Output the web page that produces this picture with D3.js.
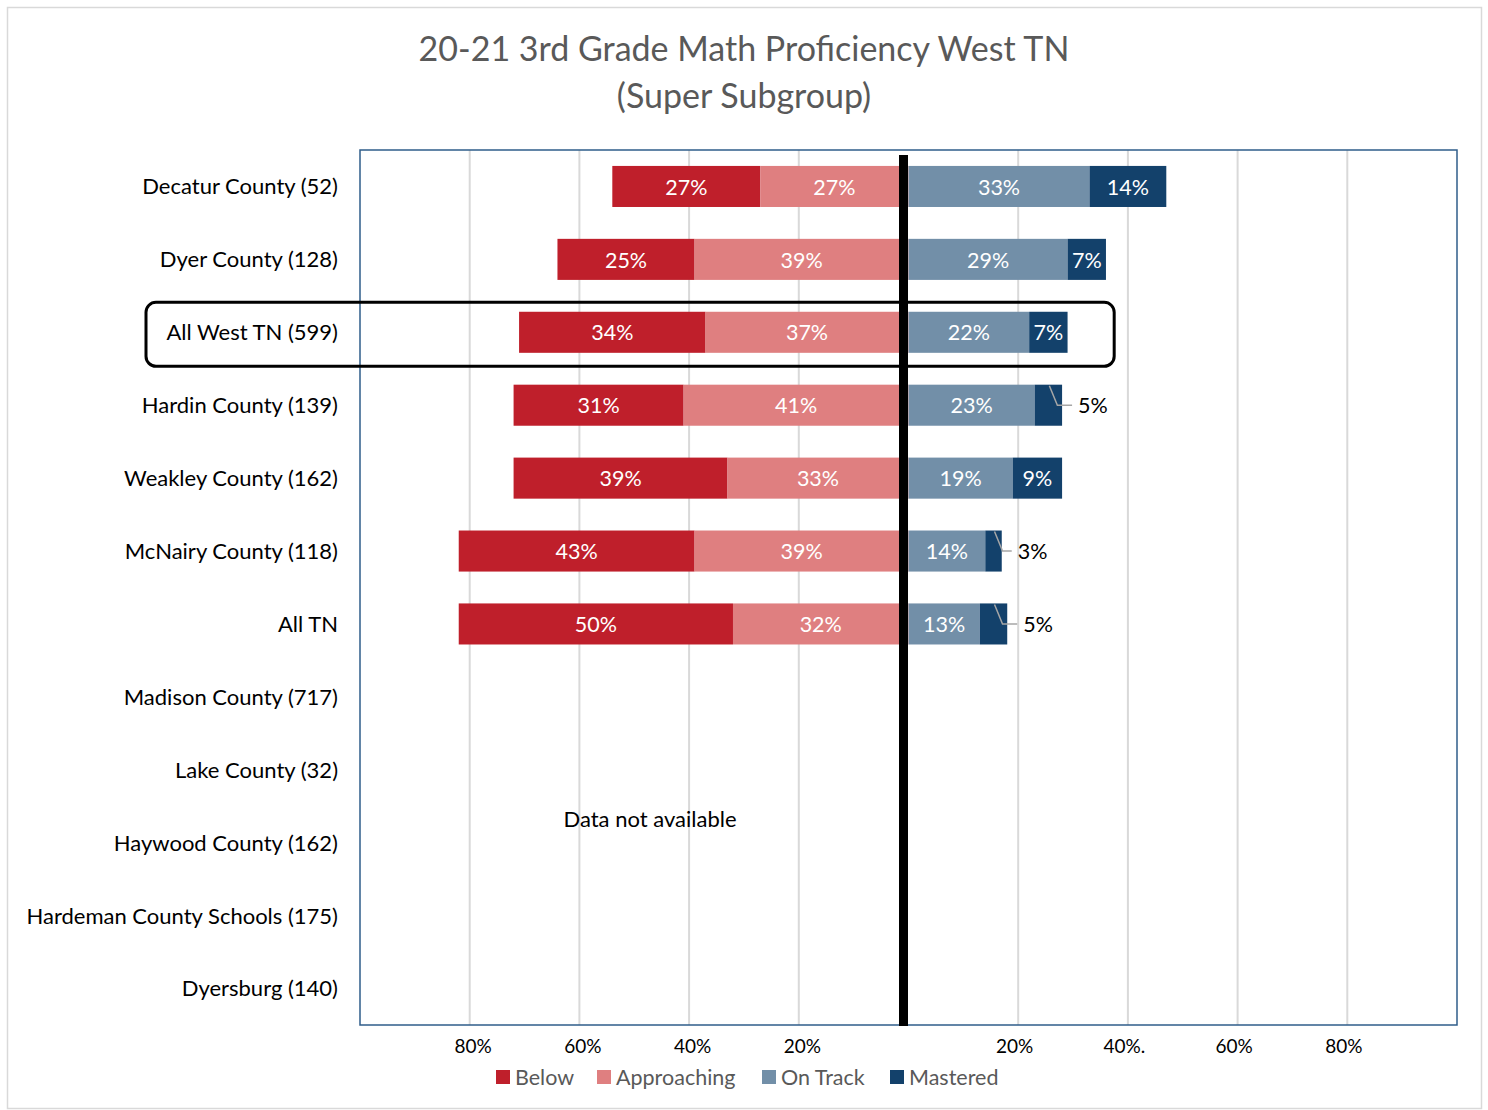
<!DOCTYPE html>
<html>
<head>
<meta charset="utf-8">
<script src="https://cdn.jsdelivr.net/npm/d3@7"></script>
<style>
  body { margin: 0; background: #fff; }
  text { font-family: Lato, "Open Sans", sans-serif; }
</style>
</head>
<body>
<div id="chart"></div>
<script>
var categories = ["Decatur County (52)", "Dyer County (128)", "All West TN (599)", "Hardin County (139)",
    "Weakley County (162)", "McNairy County (118)", "All TN", "Madison County (717)", "Lake County (32)",
    "Haywood County (162)", "Hardeman County Schools (175)", "Dyersburg (140)"]
var below       = [27, 25, 34, 31, 39, 43, 50, null, null, null, null, null]
var approaching = [27, 39, 37, 41, 33, 39, 32, null, null, null, null, null]
var onTrack     = [33, 29, 22, 23, 19, 14, 13, null, null, null, null, null]
var mastered    = [14, 7, 7, 5, 9, 3, 5, null, null, null, null, null]
var seriesNames = ["Below", "Approaching", "On Track", "Mastered"]
var tickValues = [-0.8, -0.6, -0.4, -0.2, 0.2, 0.4, 0.6, 0.8]
var tickLabels = ["80%", "60%", "40%", "20%", "20%", "40%.", "60%", "80%"]
var highlight = "All West TN (599)"
var noDataText = "Data not available"

var colors = ["#BF1F2B", "#DF7F80", "#728FA8", "#13416B"]

var svg = d3.select("#chart")
    .append("svg")
    .attr("width", 1488)
    .attr("height", 1110)

// outer chart frame
svg.append("rect")
    .attr("x", 7.5).attr("y", 7.5)
    .attr("width", 1474).attr("height", 1101)
    .style("fill", "#fff")
    .style("stroke", "#d9d9d9")
    .style("stroke-width", 1.5)

svg.append("text")
    .attr("x", 744).attr("y", 61)
    .attr("text-anchor", "middle")
    .style("font-size", "34px")
    .style("fill", "#595959")
    .text("20-21 3rd Grade Math Proficiency West TN")
svg.append("text")
    .attr("x", 744).attr("y", 108)
    .attr("text-anchor", "middle")
    .style("font-size", "34px")
    .style("fill", "#595959")
    .text("(Super Subgroup)")

var x = d3.scaleLinear().domain([-1, 1]).range([360, 1457])
var y = d3.scaleBand().domain(categories).range([150, 1025])
    .paddingInner(0.437).paddingOuter(0.2185)
var bw = y.bandwidth()

// gridlines
svg.append("g").selectAll("line")
    .data(tickValues)
    .enter()
    .append("line")
    .attr("x1", function (d) { return x(d) })
    .attr("x2", function (d) { return x(d) })
    .attr("y1", 150).attr("y2", 1025)
    .style("stroke", "#d9d9d9")
    .style("stroke-width", 2)

// stacked segments
var rows = categories.map(function (c, i) {
    return { cat: c, vals: [below[i], approaching[i], onTrack[i], mastered[i]] }
}).filter(function (r) { return r.vals[0] != null })

var segs = []
rows.forEach(function (r) {
    var b = r.vals[0] / 100, a = r.vals[1] / 100, o = r.vals[2] / 100, m = r.vals[3] / 100
    segs.push({ cat: r.cat, s: 0, x0: -(a + b), x1: -a, v: r.vals[0] })
    segs.push({ cat: r.cat, s: 1, x0: -a, x1: 0, v: r.vals[1] })
    segs.push({ cat: r.cat, s: 2, x0: 0, x1: o, v: r.vals[2] })
    segs.push({ cat: r.cat, s: 3, x0: o, x1: o + m, v: r.vals[3] })
})

svg.append("g").selectAll("rect")
    .data(segs)
    .enter()
    .append("rect")
    .attr("x", function (d) { return x(d.x0) })
    .attr("width", function (d) { return x(d.x1) - x(d.x0) })
    .attr("y", function (d) { return y(d.cat) })
    .attr("height", bw)
    .style("fill", function (d) { return colors[d.s] })

// labels inside
svg.append("g").selectAll("text")
    .data(segs.filter(function (d) { return d.v >= 6 }))
    .enter()
    .append("text")
    .attr("x", function (d) { return (x(d.x0) + x(d.x1)) / 2 })
    .attr("y", function (d) { return y(d.cat) + bw / 2 })
    .attr("dy", "0.38em")
    .attr("text-anchor", "middle")
    .style("font-size", "21.5px")
    .style("fill", "#fff")
    .text(function (d) { return d.v + "%" })

// small labels outside with leader lines
var small = segs.filter(function (d) { return d.v < 6 })
var leaders = svg.append("g")
small.forEach(function (d) {
    var cx = (x(d.x0) + x(d.x1)) / 2
    var end = x(d.x1)
    var yt = y(d.cat), ym = y(d.cat) + bw / 2
    leaders.append("path")
        .attr("d", "M" + (cx + 1) + "," + (yt + 1) + " L" + (cx + 9) + "," + ym + " L" + (end + 10) + "," + ym)
        .style("fill", "none")
        .style("stroke", "#a6a6a6")
        .style("stroke-width", 1.5)
    leaders.append("text")
        .attr("x", end + 16)
        .attr("y", ym)
        .attr("dy", "0.38em")
        .style("font-size", "21.5px")
        .style("fill", "#000")
        .text(d.v + "%")
})

// plot border
svg.append("rect")
    .attr("x", 360).attr("y", 150)
    .attr("width", 1097).attr("height", 875)
    .style("fill", "none")
    .style("stroke", "#2F5D8A")
    .style("stroke-width", 1.5)

// center line
svg.append("line")
    .attr("x1", x(0) - 5).attr("x2", x(0) - 5)
    .attr("y1", 155).attr("y2", 1026)
    .style("stroke", "#000")
    .style("stroke-width", 9)

// highlight box
svg.append("rect")
    .attr("x", 146).attr("y", y(highlight) + bw / 2 - 30)
    .attr("width", x(0.375) - 146).attr("height", 64)
    .attr("rx", 10)
    .style("fill", "none")
    .style("stroke", "#000")
    .style("stroke-width", 3)

// category labels
svg.append("g").selectAll("text")
    .data(categories)
    .enter()
    .append("text")
    .attr("x", 338)
    .attr("y", function (d) { return y(d) + bw / 2 })
    .attr("dy", "0.36em")
    .attr("text-anchor", "end")
    .style("font-size", "22px")
    .style("fill", "#000")
    .text(function (d) { return d })

svg.append("text")
    .attr("x", 650).attr("y", 819)
    .attr("dy", "0.36em")
    .attr("text-anchor", "middle")
    .style("font-size", "22px")
    .style("fill", "#000")
    .text(noDataText)

// x axis
var axis = d3.axisBottom(x)
    .tickValues(tickValues)
    .tickSize(0)
    .tickPadding(0)
    .tickFormat(function (d, i) { return tickLabels[i] })
var ax = svg.append("g")
    .attr("transform", "translate(0,1039)")
    .call(axis)
ax.select(".domain").remove()
ax.selectAll("text")
    .attr("dx", function (d) { return d > 0 ? -4 : 3 })
    .style("font-size", "19px")
    .style("fill", "#000")
    .style("font-family", "Lato, sans-serif")

// legend
var legendX = [496, 597, 762, 890]
var leg = svg.append("g").selectAll("g")
    .data(seriesNames)
    .enter()
    .append("g")
    .attr("transform", function (d, i) { return "translate(" + legendX[i] + ",1077)" })
leg.append("rect")
    .attr("x", 0).attr("y", -7)
    .attr("width", 14).attr("height", 14)
    .style("fill", function (d, i) { return colors[i] })
leg.append("text")
    .attr("x", 19)
    .attr("dy", "0.36em")
    .style("font-size", "21.5px")
    .style("fill", "#595959")
    .text(function (d) { return d })
</script>
</body>
</html>
